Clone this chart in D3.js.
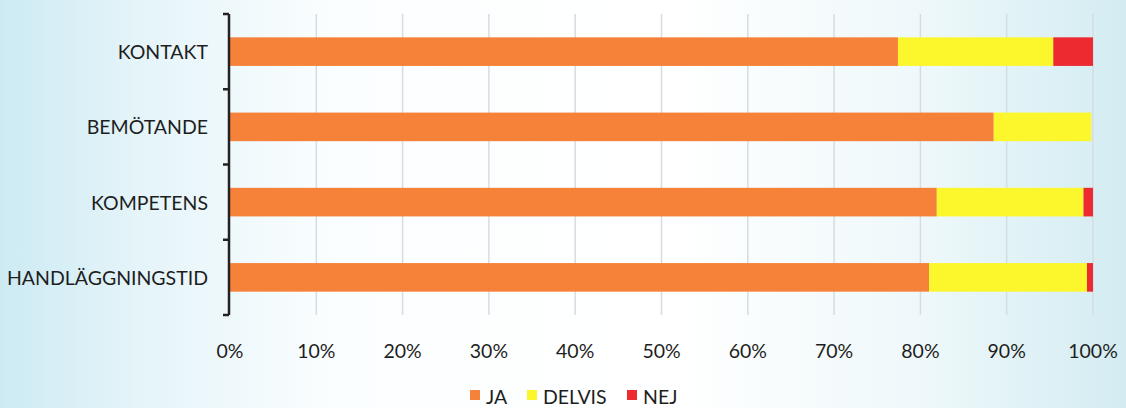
<!DOCTYPE html>
<html><head><meta charset="utf-8">
<script src="https://cdn.jsdelivr.net/npm/d3@7"></script>
<style>html,body{margin:0;padding:0;background:#fff;}svg{display:block;}</style>
</head><body>
<svg id="chart" width="1126" height="408"></svg>
<script>
const categories = ["KONTAKT", "BEMÖTANDE", "KOMPETENS", "HANDLÄGGNINGSTID"];
const seriesNames = ["JA", "DELVIS", "NEJ"];
const ja     = [77.4, 88.5, 81.9, 81.0];
const delvis = [18.0, 11.3, 17.0, 18.3];
const nej    = [4.6, 0, 1.1, 0.7];
const xTicks = [0, 10, 20, 30, 40, 50, 60, 70, 80, 90, 100];
const colors = ["#F6823A", "#FCF72C", "#EC2A30"];

const svg = d3.select("#chart");
const W = 1126, H = 408;
const FONT = "Lato, 'Open Sans', sans-serif";
const defs = svg.append("defs");
const g1 = defs.append("linearGradient").attr("id", "bg").attr("x1", 0).attr("x2", 1).attr("y1", 0).attr("y2", 0);
[[0, "#cdeaf3"], [0.12, "#e4f4f9"], [0.3, "#fbfeff"], [0.6, "#ffffff"], [0.82, "#eef8fa"], [1, "#d3ecf2"]]
  .forEach(([o, c]) => g1.append("stop").attr("offset", o).attr("stop-color", c));
svg.append("rect").attr("width", W).attr("height", H).attr("fill", "url(#bg)");

const margin = {left: 230, right: 33, top: 14, bottom: 93};
const x = d3.scaleLinear().domain([0, 100]).range([margin.left, W - margin.right]);
const y = d3.scaleBand().domain(categories).range([margin.top, H - margin.bottom]).paddingInner(0.62).paddingOuter(0.31);

// gridlines
svg.append("g").selectAll("line").data(xTicks.slice(1)).join("line")
  .attr("x1", d => x(d)).attr("x2", d => x(d))
  .attr("y1", margin.top).attr("y2", H - margin.bottom)
  .attr("stroke", "#d6dde0").attr("stroke-width", 1.5);

// stacked data
const rows = categories.map((c, i) => ({cat: c, JA: ja[i], DELVIS: delvis[i], NEJ: nej[i]}));
const stack = d3.stack().keys(seriesNames)(rows);
svg.append("g").selectAll("g").data(stack).join("g")
  .attr("fill", (d, i) => colors[i])
  .selectAll("rect").data(d => d).join("rect")
  .attr("x", d => x(d[0])).attr("width", d => Math.max(0, x(d[1]) - x(d[0])))
  .attr("y", d => y(d.data.cat)).attr("height", y.bandwidth());

// y axis
const band = y.step();
const yAxisG = svg.append("g");
yAxisG.append("line").attr("x1", margin.left - 1).attr("x2", margin.left - 1)
  .attr("y1", margin.top).attr("y2", H - margin.bottom)
  .attr("stroke", "#222").attr("stroke-width", 2.5);
const tickYs = d3.range(categories.length + 1).map(i => margin.top + i * band);
yAxisG.selectAll(".tk").data(tickYs).join("line")
  .attr("x1", margin.left - 7).attr("x2", margin.left - 1)
  .attr("y1", d => d).attr("y2", d => d)
  .attr("stroke", "#222").attr("stroke-width", 2.5);

svg.append("g").selectAll("text").data(categories).join("text")
  .attr("x", margin.left - 22).attr("y", d => y(d) + y.bandwidth() / 2)
  .attr("text-anchor", "end").attr("dominant-baseline", "central")
  .attr("font-family", FONT).attr("font-size", 19.5).attr("fill", "#1e1e1e")
  .text(d => d);

// x labels
svg.append("g").selectAll("text").data(xTicks).join("text")
  .attr("x", d => x(d)).attr("y", H - margin.bottom + 35)
  .attr("text-anchor", "middle").attr("dominant-baseline", "central")
  .attr("font-family", FONT).attr("font-size", 19.5).attr("fill", "#1e1e1e")
  .text(d => d + "%");

// legend
const legend = svg.append("g");
const legX = [470, 527, 627];
seriesNames.forEach((s, i) => {
  legend.append("rect").attr("x", legX[i]).attr("y", 390).attr("width", 10).attr("height", 10).attr("fill", colors[i]);
  legend.append("text").attr("x", legX[i] + 16).attr("y", 396)
    .attr("dominant-baseline", "central")
    .attr("font-family", FONT).attr("font-size", 19.5).attr("fill", "#1e1e1e")
    .text(s);
});
</script>
</body></html>
